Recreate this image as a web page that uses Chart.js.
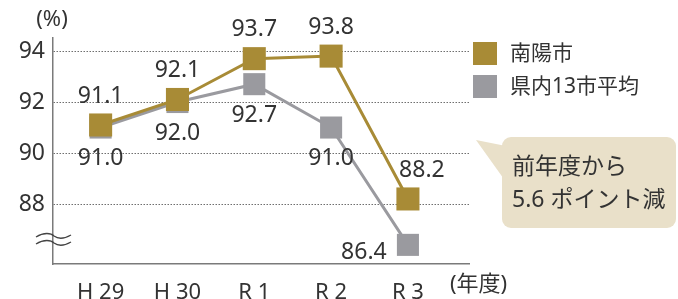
<!DOCTYPE html>
<html>
<head>
<meta charset="utf-8">
<script src="https://cdn.jsdelivr.net/npm/chart.js@4.4.0/dist/chart.umd.min.js"></script>
<style>
  html, body { margin: 0; padding: 0; background: #fff; }
  #wrap { width: 678px; height: 299px; }
</style>
</head>
<body>
<div id="wrap"><canvas id="rateChart" width="678" height="299"></canvas></div>
<script>
const categories = ['H 29', 'H 30', 'R 1', 'R 2', 'R 3'];
const seriesNames = ['南陽市', '県内13市平均'];
const nanyoValues = [91.1, 92.1, 93.7, 93.8, 88.2];
const prefAvgValues = [91.0, 92.0, 92.7, 91.0, 86.4];
const yTicks = [88, 90, 92, 94];
const noteLines = ['前年度から', '5.6 ポイント減'];

const GOLD = '#a88b36';
const GRAY = '#9a9a9f';
const TEXT = '#333333';
const FONT = '"Noto Sans", "Noto Sans CJK JP", sans-serif';

const toPoints = vals => vals.map((v, i) => ({ x: i, y: v }));

// labels, legend, break mark and the callout box
const decorations = {
  id: 'decorations',
  afterDatasetsDraw(chart) {
    const ctx = chart.ctx;
    ctx.save();
    ctx.fillStyle = TEXT;
    ctx.font = '23px ' + FONT;
    ctx.textAlign = 'center';
    ctx.textBaseline = 'middle';
    chart.data.datasets.forEach((ds, di) => {
      const meta = chart.getDatasetMeta(di);
      meta.data.forEach((pt, i) => {
        const txt = ds.data[i].y.toFixed(1);
        let x = pt.x, y = pt.y;
        if (di === 0) {
          y -= 29;
          if (i === ds.data.length - 1) x += 14;
        } else {
          if (i === ds.data.length - 1) { x -= 44; y += 8; }
          else y += 31;
        }
        ctx.fillText(txt, x, y);
      });
    });
    ctx.restore();
  },
  afterDraw(chart) {
    const ctx = chart.ctx;
    ctx.save();
    ctx.fillStyle = TEXT;
    ctx.textBaseline = 'middle';

    // unit labels
    ctx.font = '22px ' + FONT;
    ctx.textAlign = 'center';
    ctx.fillText('(%)', 52, 20);
    ctx.textAlign = 'left';
    ctx.fillText('(年度)', 450, 285);

    // axis break mark
    ctx.strokeStyle = '#444';
    ctx.lineWidth = 1.3;
    [236, 243].forEach(yy => {
      ctx.beginPath();
      ctx.moveTo(36, yy + 1);
      ctx.bezierCurveTo(44, yy - 4, 51, yy - 3, 54, yy);
      ctx.bezierCurveTo(58, yy + 3, 64, yy + 3, 71, yy - 1);
      ctx.stroke();
    });

    // legend
    ctx.font = '21px ' + FONT;
    chart.data.datasets.forEach((ds, di) => {
      const top = 42 + di * 33;
      ctx.fillStyle = ds.backgroundColor;
      ctx.fillRect(473, top, 24, 23);
      ctx.fillStyle = TEXT;
      ctx.fillText(ds.label, 510, top + 12);
    });

    // callout
    ctx.fillStyle = '#e9e0c9';
    ctx.beginPath();
    ctx.moveTo(476, 140);
    ctx.lineTo(506, 146);
    ctx.lineTo(506, 182);
    ctx.closePath();
    ctx.fill();
    ctx.beginPath();
    ctx.roundRect(502, 137, 174, 91, 9);
    ctx.fill();
    ctx.fillStyle = TEXT;
    ctx.font = '23px ' + FONT;
    ctx.fillText(noteLines[0], 512, 167);
    ctx.fillText(noteLines[1], 512, 200);
    ctx.restore();
  }
};

new Chart(document.getElementById('rateChart'), {
  type: 'line',
  data: {
    datasets: [
      {
        label: seriesNames[0],
        data: toPoints(nanyoValues),
        borderColor: GOLD,
        backgroundColor: GOLD,
        borderWidth: 3,
        pointStyle: 'rect',
        pointRadius: 16.3,
        pointBorderWidth: 0,
        tension: 0
      },
      {
        label: seriesNames[1],
        data: toPoints(prefAvgValues),
        borderColor: GRAY,
        backgroundColor: GRAY,
        borderWidth: 3,
        pointStyle: 'rect',
        pointRadius: 15.6,
        pointBorderWidth: 0,
        tension: 0
      }
    ]
  },
  options: {
    responsive: false,
    animation: false,
    layout: { padding: { top: 38, right: 209, left: 0, bottom: 0 } },
    plugins: { legend: { display: false }, tooltip: { enabled: false } },
    scales: {
      x: {
        type: 'linear',
        min: -0.62,
        max: 4.795,
        afterBuildTicks: s => { s.ticks = categories.map((c, i) => ({ value: i })); },
        afterFit: s => { s.height = 35; },
        grid: { display: false },
        border: { display: true, color: '#7a7a7a', width: 1.5 },
        ticks: {
          autoSkip: false,
          maxRotation: 0,
          padding: 8,
          color: TEXT,
          font: { family: FONT, size: 22 },
          callback: v => categories[v]
        }
      },
      y: {
        min: 85.65,
        max: 94.51,
        afterBuildTicks: s => { s.ticks = yTicks.map(v => ({ value: v })); },
        afterFit: s => { s.width = 53; },
        grid: { color: '#6f6f6f', lineWidth: 1, drawTicks: false },
        border: { display: true, color: '#7a7a7a', width: 1.5, dash: [1.5, 1.5] },
        ticks: {
          padding: 8,
          color: TEXT,
          font: { family: FONT, size: 23 }
        }
      }
    }
  },
  plugins: [decorations]
});
</script>
</body>
</html>
